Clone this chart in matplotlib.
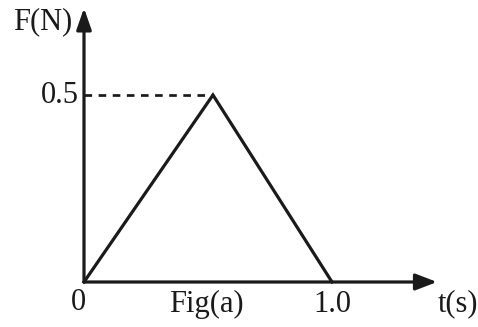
import matplotlib
matplotlib.use("Agg")
import matplotlib.pyplot as plt

# data
t_points = [0.0, 0.52, 1.0]
F_points = [0.0, 0.5, 0.0]
peak_F = 0.5
x_tick_labels = ["0", "1.0"]
x_tick_values = [0.0, 1.0]
y_label_value = 0.5

plt.rcParams['font.family'] = ['Liberation Serif', 'DejaVu Serif']

W, H = 478, 327
fig = plt.figure(figsize=(W / 100, H / 100), dpi=100)
ax = fig.add_axes([0, 0, 1, 1])
ax.set_axis_off()

# pixel mapping: origin at (84, 282), t=1.0 at x=332, F=0.5 at y=95
ox, oy = 84, 282
sx = (332 - 84) / 1.0
sy = (282 - 95) / 0.5
ax.set_xlim(-ox / sx, (W - ox) / sx)
ax.set_ylim(-(H - oy) / sy, oy / sy)

lw = 2.3
col = '#1a1a1a'
fs = 22

# axes with arrows
x_end = (437 - ox) / sx
y_end = (oy - 8) / sy
ax.annotate('', xy=(x_end, 0), xytext=(0, 0),
            arrowprops=dict(arrowstyle='-|>,head_length=1.3,head_width=0.5',
                            color=col, lw=lw, shrinkA=0, shrinkB=0))
ax.annotate('', xy=(0, y_end), xytext=(0, 0),
            arrowprops=dict(arrowstyle='-|>,head_length=1.3,head_width=0.45',
                            color=col, lw=lw, shrinkA=0, shrinkB=0))

# triangle pulse
ax.plot(t_points, F_points, color=col, lw=lw, solid_joinstyle='miter')

# dashed guide
ax.plot([0, t_points[1]], [peak_F, peak_F], color=col, lw=lw * 0.85,
        linestyle=(0, (2.8, 2.4)))

# labels
ax.text(-5 / sx, y_label_value, "0.5", ha='right', va='center', fontsize=fs, color=col)
ax.text(-71 / sx, (oy - 22) / sy, "F(N)", ha='left', va='center', fontsize=fs, color=col)
ax.text(x_tick_values[0] - 6 / sx, -21 / sy, x_tick_labels[0], ha='center', va='center', fontsize=fs, color=col)
ax.text(x_tick_values[1], -22 / sy, x_tick_labels[1], ha='center', va='center', fontsize=fs, color=col)
ax.text((206 - ox) / sx, -22 / sy, "Fig(a)", ha='center', va='center', fontsize=fs, color=col)
ax.text((458 - ox) / sx, -22 / sy, "t(s)", ha='center', va='center', fontsize=fs, color=col)

fig.savefig("out.png", dpi=100)
